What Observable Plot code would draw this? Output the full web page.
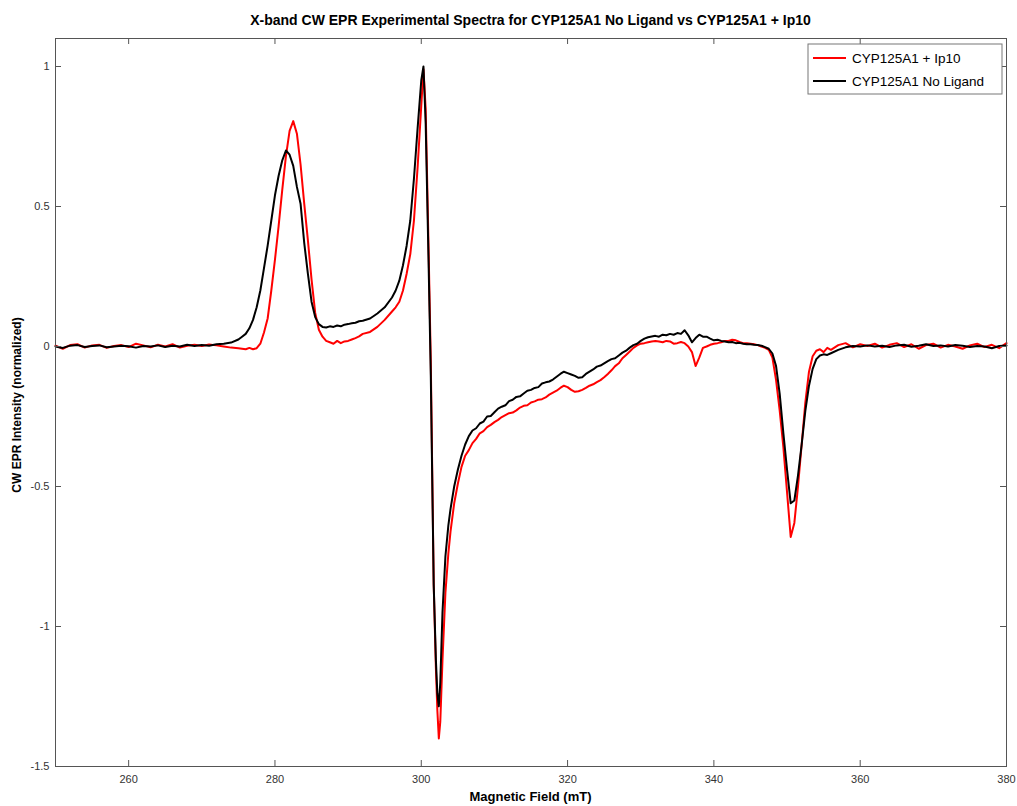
<!DOCTYPE html>
<html><head><meta charset="utf-8">
<script src="https://cdn.jsdelivr.net/npm/d3@7"></script>
<script src="https://cdn.jsdelivr.net/npm/@observablehq/plot@0.6"></script>
<style>body{margin:0;background:#fff;} #chart{width:1017px;height:806px;}</style>
</head><body><div id="chart"></div>
<script>
const field = [
250,251,252,253,254,255,256,257,258,259,260,261,262,263,264,265,266,267,268,269,270,271,272,273,274,
275,275.5,276,276.5,277,277.5,278,278.5,279,279.5,280,280.5,281,281.5,282,282.5,283,283.5,284,284.5,285,285.5,286,286.5,287,287.5,288,288.5,289,289.5,290,290.5,291,291.5,292,
293,294,295,296,
296.5,297,297.5,298,298.5,299,299.5,300,
300.3,300.6,301,301.3,301.7,302,302.2,302.4,302.6,302.9,303.3,303.7,304,304.5,305,305.5,306,
306.5,307,307.5,308,308.5,309,309.5,310,310.5,311,311.5,312,312.5,313,313.5,314,314.5,315,315.5,316,
316.5,317,317.5,318,318.5,319,319.5,320,320.5,321,321.5,322,322.5,323,323.5,324,324.5,325,325.5,326,
326.5,327,327.5,328,328.5,329,329.5,330,330.5,331,331.5,332,332.5,333,333.5,334,334.5,335,335.5,336,
336.5,337,337.5,338,338.5,339,339.5,340,340.5,341,341.5,342,342.5,343,343.5,344,344.5,345,345.5,346,
346.5,347,347.5,348,348.5,349,349.5,350,350.5,351,351.5,352,352.5,353,353.5,354,354.5,355,355.5,356,
357,358,359,360,361,362,363,364,365,366,367,368,369,370,371,372,373,374,375,376,377,378,379,380
];
const intensityIp10 = [
0.003,-0.008,0.005,0.008,-0.004,0.004,0.006,-0.005,0.002,0.005,-0.002,0.010,0.004,-0.003,0.006,0.000,0.008,-0.004,0.003,0.006,0.002,0.007,0.004,0.000,-0.004,
-0.006,-0.008,-0.01,-0.005,-0.01,-0.006,0.01,0.05,0.10,0.20,0.31,0.43,0.56,0.68,0.77,0.805,0.76,0.65,0.51,0.38,0.24,0.12,0.06,0.035,0.02,0.015,0.01,0.02,0.012,0.018,0.02,0.025,0.03,0.036,0.045,
0.052,0.07,0.095,0.125,
0.14,0.16,0.20,0.26,0.33,0.45,0.64,0.86,
0.99,0.85,0.35,-0.05,-0.85,-1.15,-1.30,-1.40,-1.34,-1.12,-0.88,-0.74,-0.66,-0.56,-0.49,-0.43,-0.39,
-0.37,-0.345,-0.33,-0.31,-0.302,-0.288,-0.28,-0.27,-0.262,-0.252,-0.245,-0.238,-0.236,-0.228,-0.218,-0.212,-0.21,-0.2,-0.196,-0.19,
-0.188,-0.182,-0.172,-0.165,-0.158,-0.148,-0.14,-0.145,-0.155,-0.162,-0.16,-0.155,-0.148,-0.14,-0.135,-0.127,-0.12,-0.11,-0.098,-0.085,
-0.07,-0.06,-0.042,-0.03,-0.018,-0.005,0.004,0.01,0.012,0.015,0.018,0.02,0.018,0.015,0.02,0.018,0.01,0.012,0.016,0.012,
0.0,-0.02,-0.07,-0.04,-0.005,0.0,0.006,0.01,0.012,0.015,0.02,0.02,0.024,0.022,0.016,0.012,0.012,0.01,0.008,0.005,
0.0,-0.005,-0.012,-0.04,-0.12,-0.23,-0.36,-0.52,-0.68,-0.63,-0.50,-0.35,-0.20,-0.09,-0.035,-0.015,-0.01,-0.02,-0.005,-0.012,
0.005,0.012,-0.003,0.008,0.002,0.010,-0.004,0.006,0.012,-0.002,0.008,-0.008,0.005,0.010,-0.004,0.006,0.000,-0.008,0.004,0.010,-0.002,0.006,-0.006,0.012
];
const intensityNoLigand = [
0.000,-0.005,0.003,0.005,-0.002,0.002,0.004,-0.003,0.000,0.003,0.001,-0.004,0.002,0.000,0.004,-0.002,0.003,0.000,0.006,0.002,0.005,0.003,0.008,0.010,0.014,
0.025,0.035,0.045,0.065,0.095,0.14,0.20,0.28,0.36,0.45,0.54,0.61,0.665,0.70,0.685,0.645,0.57,0.51,0.37,0.26,0.16,0.105,0.08,0.07,0.068,0.072,0.07,0.075,0.072,0.078,0.08,0.083,0.085,0.09,0.092,
0.10,0.118,0.14,0.175,
0.20,0.235,0.29,0.36,0.45,0.60,0.78,0.95,
1.0,0.80,0.30,-0.10,-0.85,-1.12,-1.24,-1.285,-1.20,-0.95,-0.75,-0.64,-0.58,-0.50,-0.44,-0.39,-0.35,
-0.32,-0.30,-0.292,-0.275,-0.268,-0.25,-0.248,-0.235,-0.222,-0.215,-0.21,-0.195,-0.19,-0.18,-0.178,-0.168,-0.158,-0.155,-0.148,-0.145,
-0.132,-0.128,-0.125,-0.118,-0.108,-0.098,-0.09,-0.095,-0.1,-0.105,-0.112,-0.11,-0.098,-0.09,-0.082,-0.072,-0.068,-0.06,-0.052,-0.045,
-0.042,-0.032,-0.022,-0.015,-0.004,0.005,0.01,0.02,0.028,0.033,0.036,0.038,0.035,0.042,0.04,0.045,0.042,0.048,0.045,0.058,
0.04,0.015,0.03,0.042,0.035,0.035,0.028,0.022,0.024,0.02,0.018,0.015,0.016,0.012,0.013,0.01,0.008,0.008,0.006,0.005,
0.003,-0.002,-0.008,-0.025,-0.07,-0.17,-0.31,-0.44,-0.56,-0.55,-0.46,-0.35,-0.23,-0.14,-0.08,-0.045,-0.032,-0.028,-0.03,-0.024,
-0.012,-0.003,0.002,0.0,0.004,0.000,0.003,-0.002,0.004,0.006,-0.001,0.003,0.008,0.002,0.004,0.000,0.005,0.003,-0.002,0.002,0.000,-0.006,0.002,0.004
];
const seriesNames = ["CYP125A1 + Ip10", "CYP125A1 No Ligand"];
const seriesColors = ["#ff0000", "#000000"];
const xTicks = [260, 280, 300, 320, 340, 360, 380];
const yTicks = [-1.5, -1, -0.5, 0, 0.5, 1];
const titleText = "X-band CW EPR Experimental Spectra for CYP125A1 No Ligand vs CYP125A1 + Ip10";
const xLabel = "Magnetic Field (mT)";
const yLabel = "CW EPR Intensity (normalized)";

if (field.length !== intensityIp10.length || field.length !== intensityNoLigand.length) {
  throw new Error("length mismatch " + field.length + " " + intensityIp10.length + " " + intensityNoLigand.length);
}

const rows = [];
[intensityIp10, intensityNoLigand].forEach((vals, s) => {
  field.forEach((f, i) => rows.push({field: f, intensity: vals[i], series: seriesNames[s]}));
});

const W = 1017, H = 806, mL = 55, mR = 11, mT = 38, mB = 40;
const plotW = W - mL - mR, plotH = H - mT - mB;
const fmt = d => String(d);
const axisColor = "#555";
const tk = 6;

const chart = Plot.plot({
  width: W, height: H,
  marginLeft: mL, marginRight: mR, marginTop: mT, marginBottom: mB,
  style: {fontFamily: "'Liberation Sans', Arial, sans-serif", background: "#fff"},
  x: {domain: [250, 380]},
  y: {domain: [-1.5, 1.1]},
  color: {domain: seriesNames, range: seriesColors},
  marks: [
    Plot.line(rows, {x: "field", y: "intensity", z: "series", stroke: "series", strokeWidth: 2}),
    Plot.frame({stroke: axisColor, strokeWidth: 1}),
    // inward ticks on all four sides
    Plot.ruleX(xTicks, {x: d => d, insetTop: plotH - tk, stroke: axisColor}),
    Plot.ruleX(xTicks, {x: d => d, insetBottom: plotH - tk, stroke: axisColor}),
    Plot.ruleY(yTicks, {y: d => d, insetRight: plotW - tk, stroke: axisColor}),
    Plot.ruleY(yTicks, {y: d => d, insetLeft: plotW - tk, stroke: axisColor}),
    // tick labels
    Plot.axisX(xTicks, {anchor: "bottom", tickSize: 0, tickPadding: 9, tickFormat: fmt, fontSize: 11, fill: "#333", label: null}),
    Plot.axisY(yTicks, {anchor: "left", tickSize: 0, tickPadding: 6, tickFormat: fmt, fontSize: 11, fill: "#333", label: null})
  ]
});
document.getElementById("chart").appendChild(chart);

const svg = d3.select(chart);
const ff = "'Liberation Sans', Arial, sans-serif";
svg.append("text").attr("x", (mL + W - mR) / 2).attr("y", 25).attr("text-anchor", "middle")
  .attr("font-family", ff).attr("font-weight", "bold").attr("font-size", 14).attr("fill", "#000").text(titleText);
svg.append("text").attr("x", (mL + W - mR) / 2).attr("y", 801).attr("text-anchor", "middle")
  .attr("font-family", ff).attr("font-weight", "bold").attr("font-size", 13).attr("fill", "#000").text(xLabel);
svg.append("text").attr("transform", "translate(21,405) rotate(-90)").attr("text-anchor", "middle")
  .attr("font-family", ff).attr("font-weight", "bold").attr("font-size", 12).attr("fill", "#000").text(yLabel);

// legend
const lg = svg.append("g");
lg.append("rect").attr("x", 808).attr("y", 44).attr("width", 194).attr("height", 50)
  .attr("fill", "#fff").attr("stroke", "#777").attr("stroke-width", 1);
seriesNames.forEach((name, i) => {
  const yy = 58 + i * 23;
  lg.append("line").attr("x1", 813).attr("x2", 846).attr("y1", yy).attr("y2", yy)
    .attr("stroke", seriesColors[i]).attr("stroke-width", 2);
  lg.append("text").attr("x", 852).attr("y", yy + 5).attr("text-anchor", "start")
    .attr("font-family", ff).attr("font-size", 13.5).attr("fill", "#000").text(name);
});
</script></body></html>
